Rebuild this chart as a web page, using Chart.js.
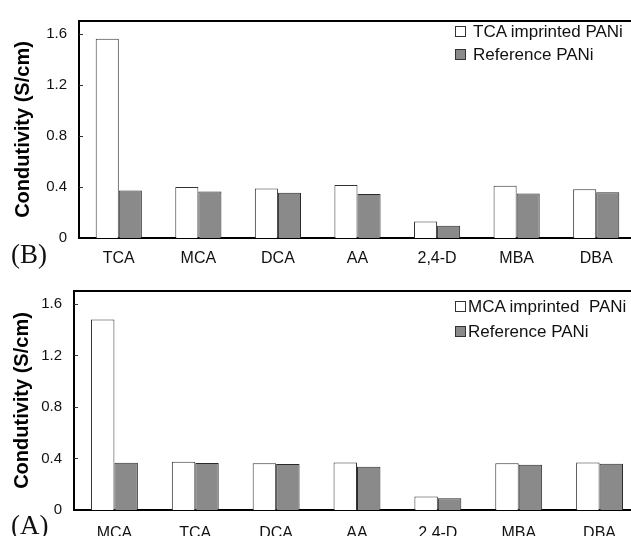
<!DOCTYPE html>
<html>
<head>
<meta charset="utf-8">
<script src="https://cdn.jsdelivr.net/npm/chart.js@4/dist/chart.umd.min.js"></script>
<style>
  html, body { margin: 0; padding: 0; background: #fff; overflow: hidden; width: 631px; height: 536px; }
  .panel { position: absolute; left: 0; }
  .lbl { position: absolute; font-family: "Liberation Serif", "DejaVu Serif", serif; font-size: 27px; color: #111; line-height: 1; }
  .leg { position: absolute; font-family: "Liberation Sans", Arial, sans-serif; font-size: 17px; color: #111; white-space: pre; line-height: 1; }
  .sw { position: absolute; width: 11px; height: 11px; box-sizing: border-box; border: 1px solid #333; }
</style>
</head>
<body>
<div class="panel" style="top:0;width:660px;height:270px;"><canvas id="cB" width="660" height="270"></canvas></div>
<div class="panel" style="top:270px;width:670px;height:266px;"><canvas id="cA" width="670" height="266"></canvas></div>

<div class="lbl" style="left:11px;top:241px;">(B)</div>
<div class="lbl" style="left:11px;top:512px;">(A)</div>

<div class="sw" style="left:455px;top:26px;background:#fff;"></div>
<div class="leg" id="legB1" style="left:473px;top:23px;"></div>
<div class="sw" style="left:455px;top:49px;background:#8a8a8a;"></div>
<div class="leg" id="legB2" style="left:473px;top:46px;"></div>

<div class="sw" style="left:455px;top:301px;background:#fff;"></div>
<div class="leg" id="legA1" style="left:468px;top:298px;"></div>
<div class="sw" style="left:455px;top:326px;background:#8a8a8a;"></div>
<div class="leg" id="legA2" style="left:468px;top:323px;"></div>

<script>
// ---- data ----
const categoriesB = ['TCA', 'MCA', 'DCA', 'AA', '2,4-D', 'MBA', 'DBA'];
const imprintedB = [1.56, 0.40, 0.387, 0.415, 0.129, 0.41, 0.382];
const referenceB = [0.372, 0.364, 0.355, 0.344, 0.096, 0.349, 0.359];

const categoriesA = ['MCA', 'TCA', 'DCA', 'AA', '2,4-D', 'MBA', 'DBA'];
const imprintedA = [1.478, 0.375, 0.362, 0.369, 0.105, 0.362, 0.369];
const referenceA = [0.367, 0.365, 0.357, 0.336, 0.092, 0.352, 0.359];

const yTickValues = [0, 0.4, 0.8, 1.2, 1.6];
const seriesNamesB = ['TCA imprinted PANi', 'Reference PANi'];
const seriesNamesA = ['MCA imprinted  PANi', 'Reference PANi'];
const yTitle = 'Condutivity (S/cm)';

document.getElementById('legB1').textContent = seriesNamesB[0];
document.getElementById('legB2').textContent = seriesNamesB[1];
document.getElementById('legA1').textContent = seriesNamesA[0];
document.getElementById('legA2').textContent = seriesNamesA[1];

const inwardTicks = {
  id: 'inwardTicks',
  afterDatasetsDraw(chart) {
    const y = chart.scales.y, ctx = chart.ctx, left = chart.chartArea.left;
    ctx.save();
    ctx.strokeStyle = '#333';
    ctx.lineWidth = 1;
    y.ticks.forEach(t => {
      if (t.value === 0) return;
      const py = Math.round(y.getPixelForValue(t.value)) + 0.5;
      ctx.beginPath();
      ctx.moveTo(left, py);
      ctx.lineTo(left + 4, py);
      ctx.stroke();
    });
    ctx.restore();
  }
};

function makeChart(id, cats, impr, ref, names, yWidth, padRight, padTop, xHeight, titlePad, xPad) {
  return new Chart(document.getElementById(id), {
    type: 'bar',
    data: {
      labels: cats,
      datasets: [
        { label: names[0], data: impr, backgroundColor: '#ffffff', borderColor: '#333', borderWidth: 1,
          barPercentage: 1.0, categoryPercentage: 0.58 },
        { label: names[1], data: ref, backgroundColor: '#8a8a8a', borderColor: '#2a2a2a', borderWidth: 1,
          barPercentage: 1.0, categoryPercentage: 0.58 }
      ]
    },
    options: {
      responsive: false,
      animation: false,
      events: [],
      layout: { padding: { left: 0, right: padRight, top: padTop, bottom: 0 } },
      plugins: { legend: { display: false }, tooltip: { enabled: false } },
      scales: {
        x: {
          position: 'bottom',
          grid: { display: false, drawTicks: false },
          border: { display: true, color: '#000', width: 2 },
          ticks: { color: '#111', padding: xPad, maxRotation: 0, autoSkip: false,
                   font: { family: '"Liberation Sans", Arial, sans-serif', size: 16 } },
          afterFit(s) { s.height = xHeight; }
        },
        x2: {
          type: 'category',
          labels: cats,
          position: 'top',
          grid: { display: false, drawTicks: false },
          border: { display: true, color: '#000', width: 2 },
          ticks: { display: false },
          afterFit(s) { s.height = 0; }
        },
        y: {
          min: 0, max: 1.7,
          grid: { display: false, drawTicks: false },
          border: { display: true, color: '#000', width: 2 },
          afterBuildTicks(s) { s.ticks = yTickValues.map(v => ({ value: v })); },
          ticks: {
            color: '#111', padding: 12,
            font: { family: '"Liberation Sans", Arial, sans-serif', size: 15 },
            callback: v => (v === 0 ? '0' : v.toFixed(1))
          },
          title: {
            display: true, text: yTitle, color: '#000',
            padding: { top: titlePad, bottom: 0 },
            font: { family: '"Liberation Sans", Arial, sans-serif', size: 20, weight: 'bold' }
          },
          afterFit(s) { s.width = yWidth; }
        }
      }
    },
    plugins: [inwardTicks]
  });
}

makeChart('cB', categoriesB, imprintedB, referenceB, seriesNamesB, 79, 24, 14, 32, 11, 11);
makeChart('cA', categoriesA, imprintedA, referenceA, seriesNamesA, 74, 30, 15, 26, 10, 14);
</script>
</body>
</html>
